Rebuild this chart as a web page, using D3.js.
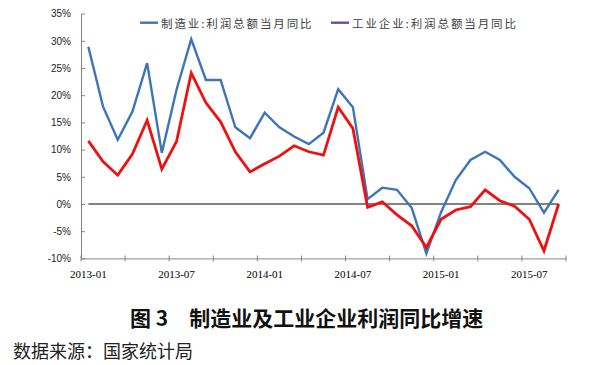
<!DOCTYPE html>
<html>
<head>
<meta charset="utf-8">
<script src="https://cdn.jsdelivr.net/npm/d3@7"></script>
<style>
  html, body { margin: 0; padding: 0; background: #fff; }
  svg { display: block; }
</style>
</head>
<body>
<svg id="chart" width="600" height="365"></svg>
<script>
const categories = [
  "2013-01","2013-02","2013-03","2013-04","2013-05","2013-06","2013-07","2013-08","2013-09","2013-10","2013-11","2013-12",
  "2014-01","2014-02","2014-03","2014-04","2014-05","2014-06","2014-07","2014-08","2014-09","2014-10","2014-11","2014-12",
  "2015-01","2015-02","2015-03","2015-04","2015-05","2015-06","2015-07","2015-08","2015-09"
];
const manufacturing = [28.9, 17.9, 11.8, 17.0, 25.9, 9.4, 21.0, 30.3, 22.8, 22.8, 14.1, 12.1,
  16.8, 14.1, 12.4, 11.0, 13.1, 21.1, 17.8, 0.9, 3.0, 2.6, -0.7, -9.1,
  -1.5, 4.4, 8.1, 9.6, 8.1, 5.0, 2.9, -1.6, 2.6];
const industrial = [11.6, 7.8, 5.3, 9.2, 15.4, 6.4, 11.5, 24.1, 18.6, 15.1, 9.6, 5.9,
  7.4, 8.8, 10.7, 9.6, 9.0, 17.8, 13.9, -0.6, 0.4, -2.0, -4.0, -8.0,
  -2.8, -1.1, -0.5, 2.6, 0.6, -0.4, -2.8, -8.6, 0.0];
const yTicks = [-10, -5, 0, 5, 10, 15, 20, 25, 30, 35];
const xLabels = ["2013-01","2013-07","2014-01","2014-07","2015-01","2015-07"];
const legendNames = ["制造业:利润总额当月同比", "工业企业:利润总额当月同比"];
const titleText = "图 3　制造业及工业企业利润同比增速";
const sourceText = "数据来源：国家统计局";

const svg = d3.select("#chart");
const x = d3.scaleBand().domain(categories).range([81, 566]).padding(0);
const y = d3.scaleLinear().domain([-10, 35]).range([258.4, 13.6]);
const cx = d => x(d) + x.bandwidth() / 2;

// Y axis
const yAxis = d3.axisLeft(y).tickValues(yTicks).tickFormat(d => d + "%")
  .tickSizeInner(-4).tickSizeOuter(0).tickPadding(10);
const gy = svg.append("g").attr("transform", "translate(81,0)").call(yAxis);
gy.select(".domain").attr("stroke", "#868686").attr("stroke-width", 1);
gy.selectAll(".tick line").attr("stroke", "#868686");
gy.selectAll("text").attr("font-family", "Liberation Sans, Arial, sans-serif")
  .attr("font-size", 10).attr("fill", "#222");

// X axis (labels)
const xAxis = d3.axisBottom(x).tickValues(xLabels).tickSize(0).tickPadding(12);
const gx = svg.append("g").attr("transform", "translate(0,258.4)").call(xAxis);
gx.select(".domain").attr("stroke", "#868686").attr("stroke-width", 1);
gx.selectAll("text").attr("font-family", "Liberation Serif, Times New Roman, serif")
  .attr("font-size", 11).attr("fill", "#000");

// X boundary ticks every 3 months
const boundaryIdx = d3.range(0, categories.length + 1, 3);
svg.append("g").selectAll("line").data(boundaryIdx).join("line")
  .attr("x1", i => i < categories.length ? x(categories[i]) : x.range()[1])
  .attr("x2", i => i < categories.length ? x(categories[i]) : x.range()[1])
  .attr("y1", 255.5).attr("y2", 261.5)
  .attr("stroke", "#868686").attr("stroke-width", 1);

// zero line
svg.append("line")
  .attr("x1", cx(categories[0])).attr("x2", cx(categories[categories.length - 1]))
  .attr("y1", y(0)).attr("y2", y(0))
  .attr("stroke", "#595959").attr("stroke-width", 1.3);

const line = d3.line().x((d, i) => cx(categories[i])).y(d => y(d));

svg.append("path").datum(manufacturing)
  .attr("d", line).attr("fill", "none")
  .attr("stroke", "#3E74B8").attr("stroke-width", 2.4).attr("stroke-linejoin", "miter");
svg.append("path").datum(industrial)
  .attr("d", line).attr("fill", "none")
  .attr("stroke", "#EE1111").attr("stroke-width", 2.8).attr("stroke-linejoin", "miter");

// Legend
const legend = [
  { name: legendNames[0], color: "#3E74B8", x1: 140, x2: 158, tx: 161 },
  { name: legendNames[1], color: "#6A4C9C", x1: 331, x2: 349, tx: 352 }
];
const lg = svg.append("g");
lg.selectAll("line").data(legend).join("line")
  .attr("x1", d => d.x1).attr("x2", d => d.x2).attr("y1", 22.7).attr("y2", 22.7)
  .attr("stroke", d => d.color).attr("stroke-width", 2.4);
lg.selectAll("text").data(legend).join("text")
  .attr("x", d => d.tx).attr("y", 22.7).attr("dominant-baseline", "central")
  .attr("font-family", "Noto Sans CJK SC, sans-serif").attr("font-size", 11.5)
  .attr("letter-spacing", 1.9).attr("fill", "#404040")
  .text(d => d.name);

// Title
svg.append("text").attr("x", 130).attr("y", 317).attr("dominant-baseline", "central")
  .attr("font-family", "Noto Sans CJK SC, sans-serif").attr("font-weight", 700)
  .attr("font-size", 21).attr("fill", "#111").text(titleText);

// Source
svg.append("text").attr("x", 13).attr("y", 350).attr("dominant-baseline", "central")
  .attr("font-family", "Noto Sans CJK SC, sans-serif").attr("font-size", 18)
  .attr("fill", "#222").text(sourceText);
</script>
</body>
</html>
